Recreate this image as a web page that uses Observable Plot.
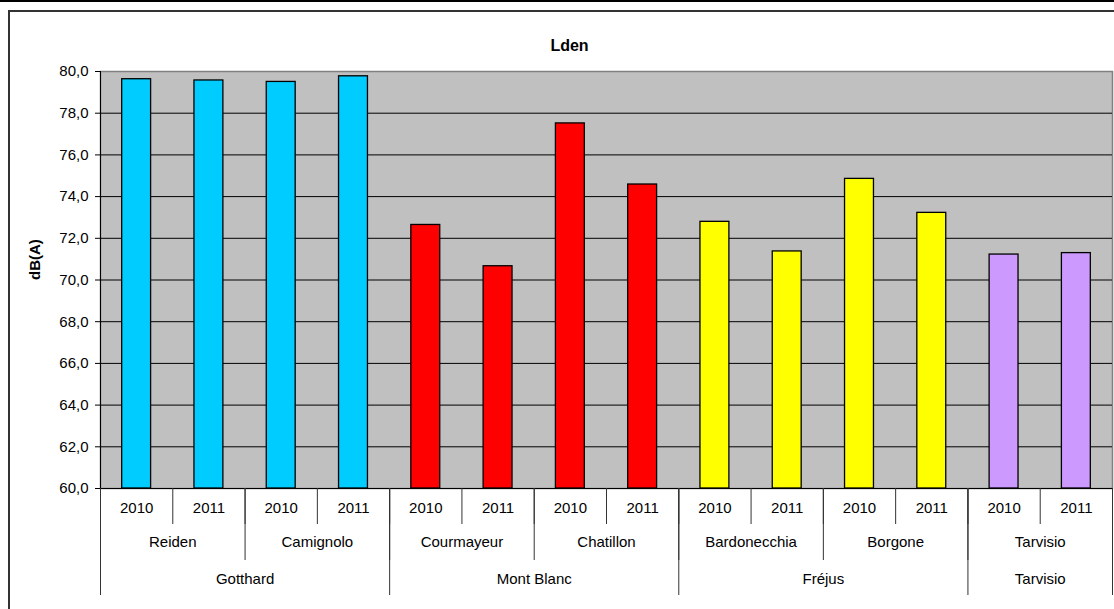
<!DOCTYPE html>
<html>
<head>
<meta charset="utf-8">
<script src="https://cdn.jsdelivr.net/npm/d3@7"></script>
<script src="https://cdn.jsdelivr.net/npm/@observablehq/plot@0.6"></script>
<style>
  html, body { margin: 0; padding: 0; background: #fff; overflow: hidden; }
  #wrap { position: relative; width: 1114px; height: 609px; }
  #topline { position: absolute; left: 0; top: 0; width: 1114px; height: 0; border-top: 2px solid #000; }
  #box { position: absolute; left: 8px; top: 10px; width: 1110px; height: 610px; border-top: 2px solid #333; border-left: 2px solid #333; pointer-events: none; }
  svg { display: block; }
</style>
</head>
<body>
<div id="wrap">
  <div id="chart"></div>
  <div id="topline"></div>
  <div id="box"></div>
</div>
<script>
// ---- data ----
const years = ["2010","2011","2010","2011","2010","2011","2010","2011","2010","2011","2010","2011","2010","2011"];
const sites = ["Reiden","Reiden","Camignolo","Camignolo","Courmayeur","Courmayeur","Chatillon","Chatillon","Bardonecchia","Bardonecchia","Borgone","Borgone","Tarvisio","Tarvisio"];
const tunnels = ["Gotthard","Gotthard","Gotthard","Gotthard","Mont Blanc","Mont Blanc","Mont Blanc","Mont Blanc","Fréjus","Fréjus","Fréjus","Fréjus","Tarvisio","Tarvisio"];
const lden = [79.63, 79.57, 79.50, 79.77, 72.64, 70.66, 77.51, 74.58, 72.79, 71.37, 74.85, 73.22, 71.22, 71.29];
const tunnelNames = ["Gotthard", "Mont Blanc", "Fréjus", "Tarvisio"];
const tunnelColors = ["#00CCFF", "#FF0000", "#FFFF00", "#CC99FF"];
const yTicks = [60, 62, 64, 66, 68, 70, 72, 74, 76, 78, 80];
const title = "Lden";
const yLabel = "dB(A)";

// ---- derived tables ----
const bars = lden.map((v, i) => ({i, year: years[i], site: sites[i], tunnel: tunnels[i], value: v}));
function runs(arr) {
  const out = [];
  let start = 0;
  for (let i = 1; i <= arr.length; i++) {
    if (i === arr.length || arr[i] !== arr[start]) {
      out.push({label: arr[start], start, end: i, c: (start + i) / 2});
      start = i;
    }
  }
  return out;
}
const siteRuns = runs(sites);
const tunnelRuns = runs(tunnels);
const yearCells = years.map((y, i) => ({label: y, c: i + 0.5}));
const allBounds = d3.range(0, years.length + 1);
const siteBounds = [0, ...siteRuns.map(d => d.end)];
const tunnelBounds = [0, ...tunnelRuns.map(d => d.end)];
const pad = 0.3;

const fmt = d => d.toFixed(1).replace(".", ",");

const chart = Plot.plot({
  width: 1114,
  height: 609,
  marginLeft: 100,
  marginRight: 2,
  marginTop: 71,
  marginBottom: 121,
  style: {fontFamily: "'Liberation Sans', Arial, sans-serif", fontSize: "15px", color: "#000", background: "transparent"},
  x: {type: "linear", domain: [0, years.length], axis: null, label: null},
  y: {domain: [60, 80], axis: null, label: null},
  color: {domain: tunnelNames, range: tunnelColors},
  marks: [
    Plot.frame({fill: "#C0C0C0", stroke: "#808080", strokeWidth: 1.5}),
    Plot.gridY(yTicks.slice(1, -1), {stroke: "#000", strokeOpacity: 1, strokeWidth: 1}),
    Plot.rectY(bars, {
      x1: d => d.i + pad,
      x2: d => d.i + 1 - pad,
      y1: 60,
      y2: "value",
      fill: "tunnel",
      stroke: "#000",
      strokeWidth: 1.3
    }),
    Plot.ruleY([60], {stroke: "#000", strokeWidth: 1}),
    Plot.ruleX([0], {stroke: "#000", strokeWidth: 1}),
    Plot.axisY(yTicks, {tickFormat: fmt, tickSize: 5, tickPadding: 7, stroke: "#000", fontSize: 15, label: null}),
    // x multi-level separators
    Plot.axisX(allBounds, {tickSize: 36, tickFormat: () => "", stroke: "#333", label: null}),
    Plot.axisX(siteBounds, {tickSize: 72, tickFormat: () => "", stroke: "#333", label: null}),
    Plot.axisX(tunnelBounds, {tickSize: 107, tickFormat: () => "", stroke: "#333", label: null}),
    // labels
    Plot.text(yearCells, {x: "c", text: "label", frameAnchor: "bottom", dy: 24, fill: "#000", fontSize: 15}),
    Plot.text(siteRuns, {x: "c", text: "label", frameAnchor: "bottom", dy: 58, fill: "#000", fontSize: 15}),
    Plot.text(tunnelRuns, {x: "c", text: "label", frameAnchor: "bottom", dy: 95, fill: "#000", fontSize: 15}),
    Plot.text([yLabel], {frameAnchor: "left", rotate: -90, dx: -65, fontWeight: "bold", fontSize: 15, fill: "#000"}),
    Plot.text([title], {frameAnchor: "top", dx: -37, dy: -32, fontWeight: "bold", fontSize: 16, fill: "#000", letterSpacing: "1px"})
  ]
});
document.getElementById("chart").appendChild(chart);
</script>
</body>
</html>
